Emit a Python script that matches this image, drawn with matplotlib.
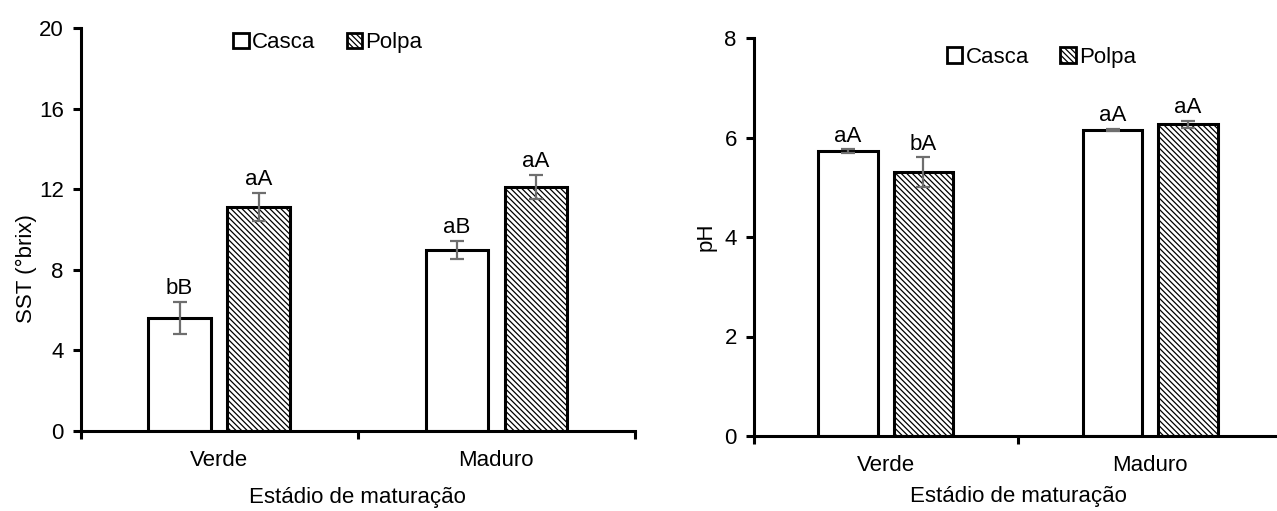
import matplotlib
matplotlib.use("Agg")
import matplotlib.pyplot as plt
import numpy as np

plt.rcParams['font.family'] = ['Liberation Sans', 'DejaVu Sans']
plt.rcParams['hatch.linewidth'] = 0.9

categories = ["Verde", "Maduro"]
series = ["Casca", "Polpa"]

sst_casca = [5.6, 9.0]
sst_polpa = [11.1, 12.1]
sst_casca_err = [0.8, 0.45]
sst_polpa_err = [0.7, 0.6]
sst_casca_lbl = ["bB", "aB"]
sst_polpa_lbl = ["aA", "aA"]

ph_casca = [5.72, 6.15]
ph_polpa = [5.30, 6.27]
ph_casca_err = [0.04, 0.02]
ph_polpa_err = [0.30, 0.07]
ph_casca_lbl = ["aA", "aA"]
ph_polpa_lbl = ["bA", "aA"]

sst_ticks = [0, 4, 8, 12, 16, 20]
ph_ticks = [0, 2, 4, 6, 8]

W, H = 1277, 511
fig = plt.figure(figsize=(W / 100, H / 100), dpi=100)

FS = 16
ERRC = "#6e6e6e"


def panel(rect, casca, polpa, cerr, perr, clbl, plbl, ticks, ylabel, leg_xy, ylab_xy, xlpad):
    ax = fig.add_axes(rect)
    x = np.arange(len(categories)) + 0.5
    bw = 0.225
    off = 0.1425
    ekw = dict(ecolor=ERRC, elinewidth=1.6, capsize=5, capthick=1.6)
    ax.bar(x - off, casca, bw, color="white", edgecolor="black", linewidth=2.2,
           yerr=cerr, error_kw=ekw, label=series[0], zorder=2)
    ax.bar(x + off, polpa, bw, color="white", edgecolor="black", linewidth=2.2,
           hatch="\\\\\\\\\\\\", yerr=perr, error_kw=ekw, label=series[1], zorder=2)
    for xi, v, e, t in zip(x - off, casca, cerr, clbl):
        ax.annotate(t, (xi, v + e), xytext=(0, 2), textcoords="offset points",
                    ha="center", va="bottom", fontsize=FS)
    for xi, v, e, t in zip(x + off, polpa, perr, plbl):
        ax.annotate(t, (xi, v + e), xytext=(0, 2), textcoords="offset points",
                    ha="center", va="bottom", fontsize=FS)
    ax.set_xlim(0, len(categories))
    ax.set_ylim(ticks[0], ticks[-1])
    ax.set_yticks(ticks)
    ax.set_xticks([0, 1, 2])
    ax.set_xticklabels([])
    ax.set_xticks(x, minor=True)
    ax.set_xticklabels(categories, minor=True, fontsize=FS)
    ax.tick_params(axis="x", which="major", direction="out", length=6, width=2.2)
    ax.tick_params(axis="x", which="minor", length=0, pad=14)
    ax.tick_params(axis="y", direction="out", length=6, width=2.2, labelsize=FS, pad=6)
    for s in ["top", "right"]:
        ax.spines[s].set_visible(False)
    for s in ["left", "bottom"]:
        ax.spines[s].set_linewidth(2.2)
    ax.spines["bottom"].set_zorder(3)
    ax.set_xlabel("Estádio de maturação", fontsize=FS, labelpad=xlpad)
    ax.set_ylabel(ylabel, fontsize=FS)
    ax.yaxis.set_label_coords(*ylab_xy)
    leg = ax.legend(loc="center", bbox_to_anchor=leg_xy, ncol=2, frameon=False,
                    fontsize=FS, handlelength=0.7, handleheight=0.7,
                    handletextpad=0.15, columnspacing=1.4)
    for p in leg.get_patches():
        p.set_linewidth(2.0)
    return ax


panel([80.5 / W, 1 - 431 / H, 554.5 / W, 403 / H],
      sst_casca, sst_polpa, sst_casca_err, sst_polpa_err,
      sst_casca_lbl, sst_polpa_lbl, sst_ticks, "SST (°brix)", (0.446, 0.963),
      (-0.078, 0.404), 11)

panel([753.5 / W, 1 - 436 / H, 529 / W, 398 / H],
      ph_casca, ph_polpa, ph_casca_err, ph_polpa_err,
      ph_casca_lbl, ph_polpa_lbl, ph_ticks, "pH", (0.544, 0.952),
      (-0.069, 0.5), 7)

fig.savefig("out.png", dpi=100)
